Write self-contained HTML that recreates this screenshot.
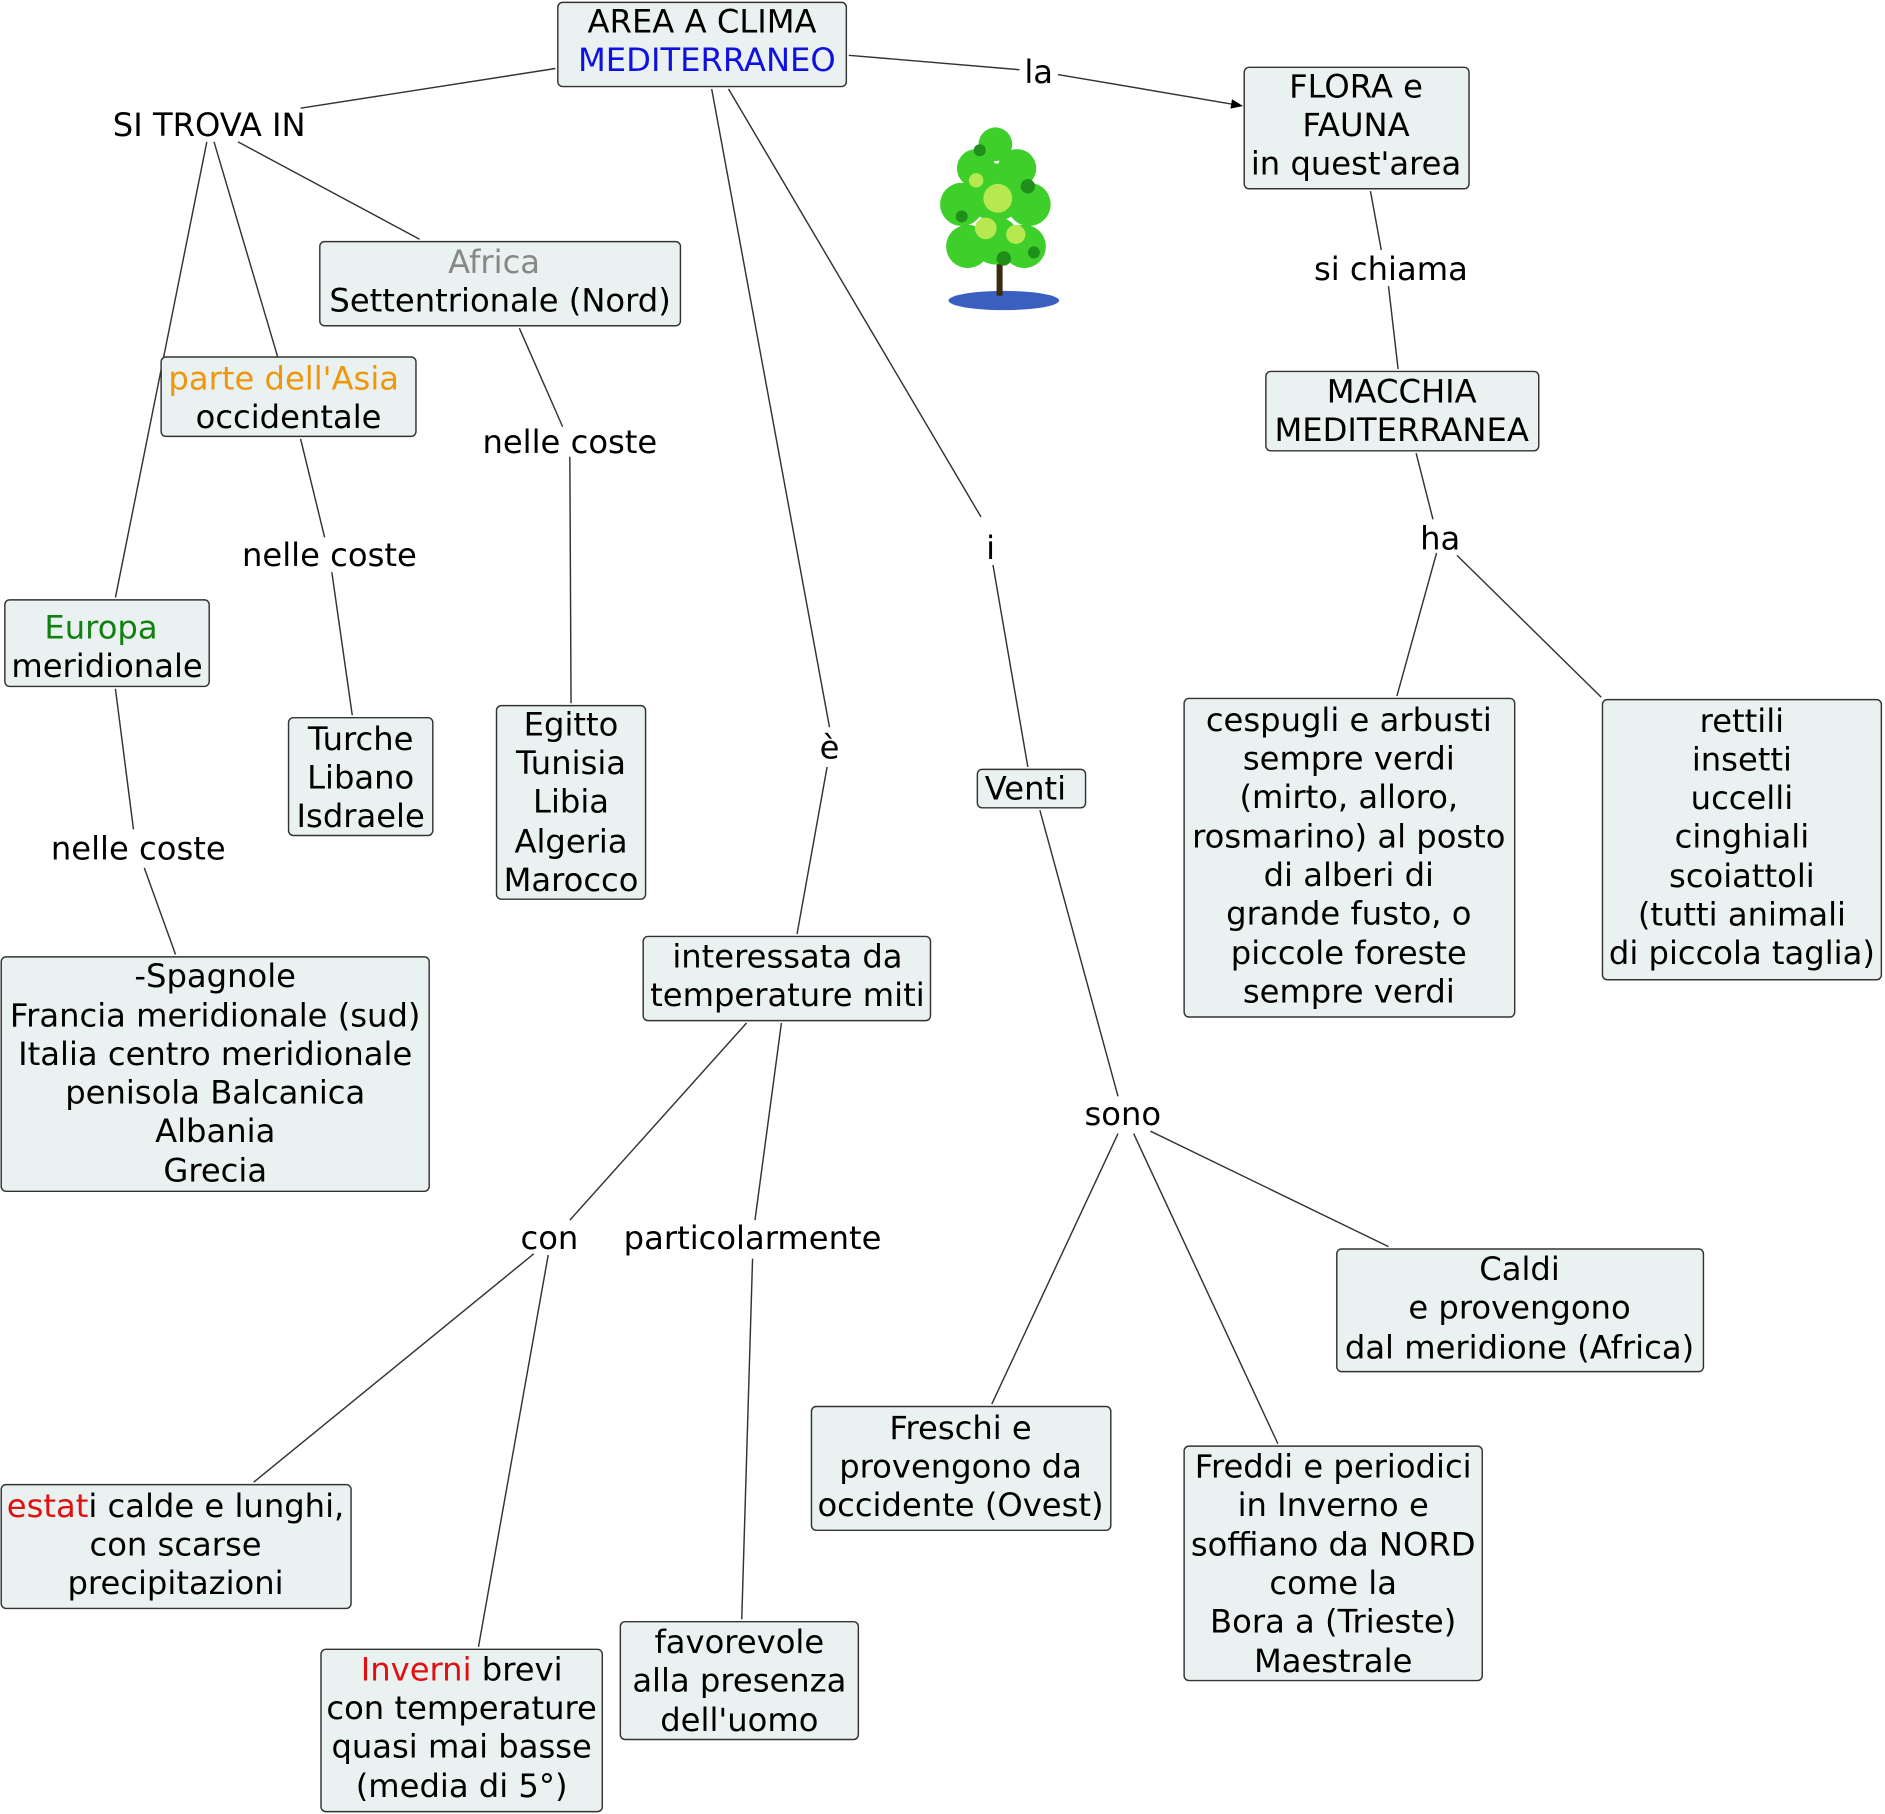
<!DOCTYPE html>
<html><head><meta charset="utf-8"><style>
html,body{margin:0;padding:0;background:#fff;}
svg{display:block;}
text{font-family:"DejaVu Sans","Liberation Sans",sans-serif;font-size:26.8px;fill:#000;text-anchor:middle;}
.b{fill:#eaf1f1;stroke:#333;stroke-width:1.2;}
line{stroke:#333;stroke-width:1.2;}
</style></head><body>
<svg width="1885" height="1814" viewBox="0 0 1568 1509" xmlns="http://www.w3.org/2000/svg">
<defs><marker id="ar" markerWidth="10" markerHeight="8" refX="9" refY="4" orient="auto" markerUnits="userSpaceOnUse"><path d="M0,0 L10,4 L0,8 z" fill="#000"/></marker></defs>
<line x1="462" y1="57" x2="250" y2="90"/>
<line x1="172" y1="118" x2="96" y2="497"/>
<line x1="178" y1="118" x2="231" y2="297"/>
<line x1="198" y1="118" x2="349" y2="199"/>
<line x1="432" y1="273" x2="468" y2="355"/>
<line x1="474" y1="380" x2="475" y2="585"/>
<line x1="250" y1="365" x2="270" y2="447"/>
<line x1="276" y1="476" x2="293" y2="595"/>
<line x1="96" y1="573" x2="111" y2="690"/>
<line x1="120" y1="722" x2="146" y2="794"/>
<line x1="592" y1="74" x2="690" y2="605"/>
<line x1="688" y1="638" x2="663" y2="777"/>
<line x1="606" y1="74" x2="816" y2="430"/>
<line x1="826" y1="470" x2="855" y2="638"/>
<line x1="706" y1="46" x2="848" y2="58"/>
<line x1="880" y1="62" x2="1033" y2="88" marker-end="url(#ar)"/>
<line x1="1140" y1="159" x2="1149" y2="208"/>
<line x1="1155" y1="238" x2="1163" y2="307"/>
<line x1="1178" y1="377" x2="1192" y2="432"/>
<line x1="1195" y1="460" x2="1162" y2="579"/>
<line x1="1212" y1="462" x2="1332" y2="580"/>
<line x1="621" y1="851" x2="474" y2="1015"/>
<line x1="650" y1="851" x2="628" y2="1015"/>
<line x1="444" y1="1043" x2="211" y2="1233"/>
<line x1="456" y1="1044" x2="398" y2="1370"/>
<line x1="626" y1="1047" x2="617" y2="1347"/>
<line x1="865" y1="674" x2="930" y2="912"/>
<line x1="930" y1="943" x2="825" y2="1168"/>
<line x1="943" y1="943" x2="1063" y2="1201"/>
<line x1="957" y1="941" x2="1155" y2="1037"/>
<rect class="b" x="464" y="2" width="240" height="70" rx="4"/>
<rect class="b" x="1035" y="56" width="187" height="101" rx="4"/>
<rect class="b" x="266" y="201" width="300" height="70" rx="4"/>
<rect class="b" x="134" y="297" width="212" height="66" rx="4"/>
<rect class="b" x="1053" y="309" width="227" height="66" rx="4"/>
<rect class="b" x="4" y="499" width="170" height="72" rx="4"/>
<rect class="b" x="240" y="597" width="120" height="98" rx="4"/>
<rect class="b" x="413" y="587" width="124" height="161" rx="4"/>
<rect class="b" x="813" y="640" width="90" height="32" rx="4"/>
<rect class="b" x="985" y="581" width="275" height="265" rx="4"/>
<rect class="b" x="1333" y="582" width="232" height="233" rx="4"/>
<rect class="b" x="535" y="779" width="239" height="70" rx="4"/>
<rect class="b" x="1" y="796" width="356" height="195" rx="4"/>
<rect class="b" x="1112" y="1039" width="305" height="102" rx="4"/>
<rect class="b" x="675" y="1170" width="249" height="103" rx="4"/>
<rect class="b" x="985" y="1203" width="248" height="195" rx="4"/>
<rect class="b" x="1" y="1235" width="291" height="103" rx="4"/>
<rect class="b" x="267" y="1372" width="234" height="135" rx="4"/>
<rect class="b" x="516" y="1349" width="198" height="98" rx="4"/>
<g>
<ellipse cx="835" cy="250" rx="46" ry="8" fill="#3a5fc0"/>
<rect x="829" y="200" width="5" height="46" fill="#3a2a10"/>
<g fill="#3fcf2a">
<circle cx="828" cy="120" r="14"/><circle cx="812" cy="140" r="16"/><circle cx="846" cy="140" r="16"/>
<circle cx="800" cy="170" r="18"/><circle cx="856" cy="170" r="18"/><circle cx="828" cy="160" r="24"/>
<circle cx="805" cy="205" r="18"/><circle cx="852" cy="205" r="18"/><circle cx="828" cy="200" r="20"/>
</g>
<g fill="#b8e850"><circle cx="830" cy="165" r="12"/><circle cx="820" cy="190" r="9"/><circle cx="845" cy="195" r="8"/><circle cx="812" cy="150" r="6"/></g>
<g fill="#1f8f1a"><circle cx="800" cy="180" r="5"/><circle cx="855" cy="155" r="6"/><circle cx="835" cy="215" r="6"/><circle cx="815" cy="125" r="5"/><circle cx="860" cy="210" r="5"/></g>
</g>
<text x="584" y="27">AREA A CLIMA</text>
<text x="588" y="59" style="fill:#1010e0">MEDITERRANEO</text>
<text x="1128" y="81">FLORA e</text><text x="1128" y="113">FAUNA</text><text x="1128" y="145">in quest'area</text>
<text x="411" y="227" style="fill:#888">Africa</text><text x="416" y="259">Settentrionale (Nord)</text>
<text x="236" y="324" style="fill:#f0960a">parte dell'Asia</text><text x="240" y="356">occidentale</text>
<text x="1166" y="335">MACCHIA</text><text x="1166" y="367">MEDITERRANEA</text>
<text x="84" y="531" style="fill:#118011">Europa</text><text x="89" y="563">meridionale</text>
<text x="300" y="624">Turche</text><text x="300" y="656">Libano</text><text x="300" y="688">Isdraele</text>
<text x="475" y="612">Egitto</text><text x="475" y="644">Tunisia</text><text x="475" y="676">Libia</text><text x="475" y="709">Algeria</text><text x="475" y="741">Marocco</text>
<text x="853" y="665">Venti</text>
<g><text x="1122" y="608">cespugli e arbusti</text><text x="1122" y="640">sempre verdi</text><text x="1122" y="672">(mirto, alloro,</text><text x="1122" y="705">rosmarino) al posto</text><text x="1122" y="737">di alberi di</text><text x="1122" y="769">grande fusto, o</text><text x="1122" y="802">piccole foreste</text><text x="1122" y="834">sempre verdi</text></g>
<g><text x="1449" y="609">rettili</text><text x="1449" y="641">insetti</text><text x="1449" y="673">uccelli</text><text x="1449" y="705">cinghiali</text><text x="1449" y="738">scoiattoli</text><text x="1449" y="770">(tutti animali</text><text x="1449" y="802">di piccola taglia)</text></g>
<text x="655" y="805">interessata da</text><text x="655" y="837">temperature miti</text>
<g><text x="179" y="821">-Spagnole</text><text x="179" y="854">Francia meridionale (sud)</text><text x="179" y="886">Italia centro meridionale</text><text x="179" y="918">penisola Balcanica</text><text x="179" y="950">Albania</text><text x="179" y="983">Grecia</text></g>
<text x="1264" y="1065">Caldi</text><text x="1264" y="1097">e provengono</text><text x="1264" y="1130">dal meridione (Africa)</text>
<text x="799" y="1197">Freschi e</text><text x="799" y="1229">provengono da</text><text x="799" y="1261">occidente (Ovest)</text>
<g><text x="1109" y="1229">Freddi e periodici</text><text x="1109" y="1261">in Inverno e</text><text x="1109" y="1294">soffiano da NORD</text><text x="1109" y="1326">come la</text><text x="1109" y="1358">Bora a (Trieste)</text><text x="1109" y="1391">Maestrale</text></g>
<text x="146" y="1262"><tspan style="fill:#e01010">estat</tspan>i calde e lunghi,</text><text x="146" y="1294">con scarse</text><text x="146" y="1326">precipitazioni</text>
<text x="384" y="1398"><tspan style="fill:#e01010">Inverni</tspan> brevi</text><text x="384" y="1430">con temperature</text><text x="384" y="1462">quasi mai basse</text><text x="384" y="1495">(media di 5°)</text>
<text x="615" y="1375">favorevole</text><text x="615" y="1407">alla presenza</text><text x="615" y="1440">dell'uomo</text>
<text x="174" y="113">SI TROVA IN</text>
<text x="864" y="69">la</text>
<text x="1157" y="233">si chiama</text>
<text x="474" y="377">nelle coste</text>
<text x="274" y="471">nelle coste</text>
<text x="1198" y="457">ha</text>
<text x="824" y="465">i</text>
<text x="690" y="631">è</text>
<text x="115" y="715">nelle coste</text>
<text x="934" y="936">sono</text>
<text x="457" y="1039">con</text>
<text x="626" y="1039">particolarmente</text>
</svg>
</body></html>
